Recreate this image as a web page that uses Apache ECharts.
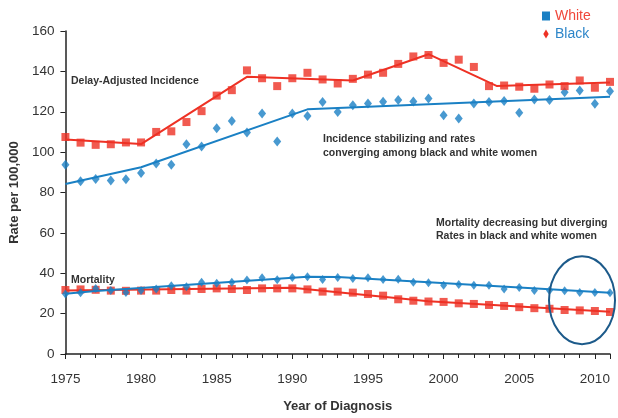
<!DOCTYPE html>
<html><head><meta charset="utf-8">
<script src="https://cdn.jsdelivr.net/npm/echarts@6/dist/echarts.min.js"></script>
<style>html,body{margin:0;padding:0;background:#fff}#c{width:618px;height:418px}</style>
</head><body><div id="c"></div>
<script>
const years = [1975,1976,1977,1978,1979,1980,1981,1982,1983,1984,1985,1986,1987,1988,1989,1990,1991,1992,1993,1994,1995,1996,1997,1998,1999,2000,2001,2002,2003,2004,2005,2006,2007,2008,2009,2010,2011];
const whiteIncidence = [107.5,104.7,103.6,103.9,104.8,104.8,110,110.3,114.9,120.3,128,130.7,140.5,136.6,132.7,136.6,139.3,136,134,136.3,138.4,139.3,143.7,147.4,148.1,144.2,145.8,142.2,132.7,133,132.4,131.4,133.5,132.7,135.5,131.9,134.8];
const blackIncidence = [93.7,85.6,86.7,85.9,86.6,89.7,94.4,93.7,103.9,102.8,111.8,115.4,109.7,119.1,105.3,119.1,117.9,124.8,119.9,123.2,124.1,124.9,125.8,125.1,126.6,118.3,116.6,124.1,124.8,125.3,119.5,126.1,125.8,129.7,130.5,124,130.2];
const whiteMortality = [31.7,32.0,31.8,31.4,31.3,31.4,31.4,31.7,31.4,32.2,32.5,32.2,31.7,32.5,32.5,32.5,32.0,30.9,30.9,30.4,29.7,28.9,27.1,26.4,26.0,25.8,25.1,24.8,24.3,23.8,23.2,22.7,22.4,21.8,21.6,21.3,20.8];
const blackMortality = [29.7,30.4,32.5,31.4,30.5,31.4,32.2,33.8,33.3,35.5,35.0,35.5,36.6,37.8,36.8,37.9,38.3,36.9,37.9,37.4,37.8,36.9,37.0,35.5,35.3,34.1,34.4,34.1,34.1,32.2,32.9,31.4,31.4,31.3,30.5,30.5,30.4];
// joinpoint trend lines
const whiteIncTrendYears = [1975,1980,1987,1994,1999,2003.5,2011];
const whiteIncTrendValues = [106.3,104,137.3,135.5,148.5,132.8,134.5];
const blackIncTrendYears = [1975,1980,1991,2011];
const blackIncTrendValues = [84.2,92.5,121.2,127.4];
const whiteMortTrendYears = [1975,1990,1999,2011];
const whiteMortTrendValues = [31.5,32.8,26.1,20.9];
const blackMortTrendYears = [1975,1977,1991,1993,2011];
const blackMortTrendValues = [29.8,31.2,38.3,38.2,30.3];
const xTicks = [1975,1980,1985,1990,1995,2000,2005,2010];
const ellipseCenter = [2009.15, 26.6];

const RED = '#ee3124', BLUE = '#1a80c4';
const pair = (xs, ys) => xs.map((x, i) => [x, ys[i]]);
const FONT = '"Liberation Sans", Arial, sans-serif';

const chart = echarts.init(document.getElementById('c'), null, {renderer: 'canvas'});
const option = {
  animation: false,
  backgroundColor: '#fff',
  grid: {left: 64, right: 8, top: 31, bottom: 62},
  legend: {
    orient: 'vertical', left: 537, top: 4, itemWidth: 8, itemHeight: 9, itemGap: 4,
    textStyle: {fontFamily: FONT, fontSize: 14},
    data: [
      {name: 'White', icon: 'rect', itemStyle: {color: BLUE}, textStyle: {color: '#f0473a'}},
      {name: 'Black', icon: 'path://M3,0L6,5L3,10L0,5Z', itemStyle: {color: RED}, textStyle: {color: '#2e86c9'}}
    ]
  },
  xAxis: {
    type: 'value', min: 1975, max: 2011, interval: 5,
    name: 'Year of Diagnosis', nameLocation: 'middle', nameGap: 46,
    nameTextStyle: {fontFamily: FONT, fontSize: 13, fontWeight: 'bold', color: '#333'},
    axisLine: {lineStyle: {color: '#222', width: 1.5}},
    axisTick: {show: true, length: 5, lineStyle: {color: '#222'}},
    minorTick: {show: true, splitNumber: 5, length: 4, lineStyle: {color: '#222'}},
    splitLine: {show: false},
    axisLabel: {fontFamily: FONT, fontSize: 13.5, color: '#333', margin: 18,
      formatter: v => xTicks.includes(v) ? String(v) : ''}
  },
  yAxis: {
    type: 'value', min: 0, max: 160, interval: 20,
    name: 'Rate per 100,000', nameLocation: 'middle', nameGap: 37,
    nameTextStyle: {fontFamily: FONT, fontSize: 13, fontWeight: 'bold', color: '#333'},
    axisLine: {show: true, lineStyle: {color: '#222', width: 1.5}},
    axisTick: {show: true, length: 5, lineStyle: {color: '#222'}},
    splitLine: {show: false},
    axisLabel: {fontFamily: FONT, fontSize: 13.5, color: '#333', margin: 11}
  },
  series: [
    {name: 'Black', type: 'line', data: pair(blackIncTrendYears, blackIncTrendValues), showSymbol: false, lineStyle: {color: BLUE, width: 2}, itemStyle: {color: BLUE}, z: 2},
    {name: 'White', type: 'line', data: pair(whiteIncTrendYears, whiteIncTrendValues), showSymbol: false, lineStyle: {color: RED, width: 2}, itemStyle: {color: RED}, z: 2},
    {name: 'Black', type: 'scatter', data: pair(years, blackIncidence), symbol: 'diamond', symbolSize: [8, 10], itemStyle: {color: BLUE}, z: 3},
    {name: 'White', type: 'scatter', data: pair(years, whiteIncidence), symbol: 'rect', symbolSize: 8, itemStyle: {color: RED}, z: 3},
    {name: 'White', type: 'line', data: pair(whiteMortTrendYears, whiteMortTrendValues), showSymbol: false, lineStyle: {color: RED, width: 2}, itemStyle: {color: RED}, z: 2},
    {name: 'White', type: 'scatter', data: pair(years, whiteMortality), symbol: 'rect', symbolSize: 8, itemStyle: {color: RED}, z: 3},
    {name: 'Black', type: 'line', data: pair(blackMortTrendYears, blackMortTrendValues), showSymbol: false, lineStyle: {color: BLUE, width: 2}, itemStyle: {color: BLUE}, z: 4},
    {name: 'Black', type: 'scatter', data: pair(years, blackMortality), symbol: 'diamond', symbolSize: [7, 9], itemStyle: {color: BLUE}, z: 5}
  ]
};
chart.setOption(option);

const c = chart.convertToPixel({gridIndex: 0}, ellipseCenter);
const tStyle = (text, x, y) => ({type: 'text', x: x, y: y, z: 10,
  style: {text: text, font: 'bold 10.5px ' + FONT, fill: '#333', verticalAlign: 'middle'}});
chart.setOption({
  graphic: [
    tStyle('Delay-Adjusted Incidence', 71, 81),
    tStyle('Incidence stabilizing and rates', 323, 139),
    tStyle('converging among black and white women', 323, 153),
    tStyle('Mortality decreasing but diverging', 436, 223),
    tStyle('Rates in black and white women', 436, 236),
    tStyle('Mortality', 71, 280),
    {type: 'ellipse', z: 10, shape: {cx: c[0], cy: c[1], rx: 33, ry: 44},
      style: {fill: 'none', stroke: '#1c5a8a', lineWidth: 2}}
  ]
});
</script>
</body></html>
